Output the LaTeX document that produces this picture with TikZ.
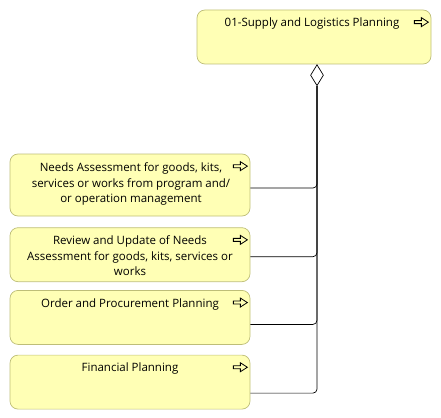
\documentclass[tikz,border=0pt]{standalone}
\usepackage{fontspec}
\setmainfont{Open Sans}
\usetikzlibrary{positioning, shapes.geometric}
\definecolor{bizfill}{RGB}{255, 255, 181}
\definecolor{bizdraw}{RGB}{190, 190, 120}
\tikzset{
    procicon/.pic = {
        \draw[line width=0.8pt, line join=miter]
        (-7pt,-1.5pt) -- (0pt,-1.5pt) -- (0pt,-4.5pt) -- (7pt,0pt)
        -- (0pt,4.5pt) -- (0pt,1.5pt) -- (-7pt,1.5pt) -- cycle;
    }
}
\begin{document}
\begin{tikzpicture}[
        x = 1pt, y = 1pt, % one unit per pixel
        node distance = 10pt, % gap between boxes
        line width = 0.7pt, % line style
        font = \fontsize{11.5}{15.5}\selectfont
    ]
        \tikzstyle{proc}=[
            draw = bizdraw,
            fill = bizfill,
            rounded corners = 8pt,
            minimum width = 240pt,
            minimum height = 54pt,
        ]
        \tikzstyle{lbl}=[
            inner sep = 0pt,
            align = center,
        ]
        \tikzstyle{conn}=[
            draw = black,
            rounded corners = 4pt,
        ]
        \useasboundingbox (0,0) rectangle (441,-417);

        % processes
        \node[proc, minimum width=234pt] (slp) at (314,-37) {};
        \node[proc, minimum height=62pt] (needs) at (130,-185) {};
        \node[proc] (review) [below=11pt of needs] {};
        \node[proc] (order) [below=8pt of review] {};
        \node[proc] (finance) [below=10pt of order] {};

        % labels
        \node[lbl] (slpT) [below=8pt of slp.north, xshift=-2pt] {01-Supply and Logistics Planning};
        \node[lbl] (needsT) [below=9pt of needs.north, xshift=1pt] {Needs Assessment for goods, kits,\\
        services or works from program and/\\or operation management};
        \node[lbl] (reviewT) [below=8pt of review.north, xshift=0pt] {Review and Update of Needs\\
        Assessment for goods, kits, services or\\works};
        \node[lbl] (orderT) [below=8pt of order.north, xshift=0pt] {Order and Procurement Planning};
        \node[lbl] (financeT) [below=8pt of finance.north, xshift=0pt] {Financial Planning};

        % icons
        \foreach \p in {slp, needs, review, order, finance}
            \pic at ([xshift=-10pt, yshift=-12.5pt]\p.north east) {procicon};

        % aggregation
        \node[draw, fill=white, shape=diamond, inner sep=0pt,
            minimum width=13pt, minimum height=21pt, anchor=north]
            (agg) at ([xshift=3pt]slp.south) {};

        \draw[conn] ([yshift=-3pt]needs.east) -| (agg.south);
        \draw[conn] ([yshift=-2pt]review.east) -| (agg.south);
        \draw[conn] ([yshift=-7pt]order.east) -| (agg.south);
        \draw[conn] ([yshift=-11pt]finance.east) -| (agg.south);
    \end{tikzpicture}
\end{document}
